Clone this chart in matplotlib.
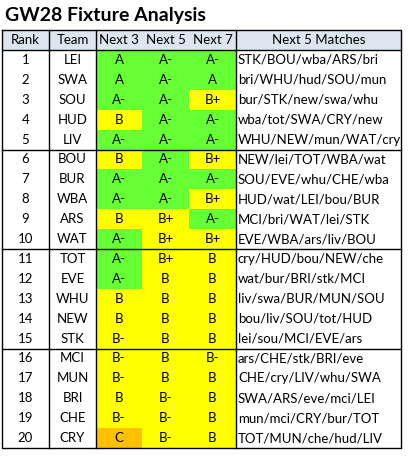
import matplotlib
matplotlib.use("Agg")
import matplotlib.pyplot as plt
from matplotlib.patches import Rectangle

ranks = list(range(1, 21))
teams = ["LEI","SWA","SOU","HUD","LIV","BOU","BUR","WBA","ARS","WAT",
         "TOT","EVE","WHU","NEW","STK","MCI","MUN","BRI","CHE","CRY"]
next3 = ["A","A","A-","B","A-","B","A-","A-","B","A-",
         "A-","A-","B","B","B-","B-","B-","B","B-","C"]
next5 = ["A-","A-","A-","A-","A-","A-","A-","A-","B+","B+",
         "B+","B","B","B","B","B","B","B-","B-","B-"]
next7 = ["A-","A","B+","A-","A-","B+","A-","B+","A-","B+",
         "B","B","B","B","B","B-","B","B","B","B"]
matches = ["STK/BOU/wba/ARS/bri","bri/WHU/hud/SOU/mun","bur/STK/new/swa/whu",
           "wba/tot/SWA/CRY/new","WHU/NEW/mun/WAT/cry","NEW/lei/TOT/WBA/wat",
           "SOU/EVE/whu/CHE/wba","HUD/wat/LEI/bou/BUR","MCI/bri/WAT/lei/STK",
           "EVE/WBA/ars/liv/BOU","cry/HUD/bou/NEW/che","wat/bur/BRI/stk/MCI",
           "liv/swa/BUR/MUN/SOU","bou/liv/SOU/tot/HUD","lei/sou/MCI/EVE/ars",
           "ars/CHE/stk/BRI/eve","CHE/cry/LIV/whu/SWA","SWA/ARS/eve/mci/LEI",
           "mun/mci/CRY/bur/TOT","TOT/MUN/che/hud/LIV"]
headers = ["Rank","Team","Next 3","Next 5","Next 7","Next 5 Matches"]

def gcol(g):
    if g.startswith("A"): return "#66FF33"
    if g.startswith("B"): return "#FFFF00"
    return "#FFC000"

plt.rcParams['font.family'] = ['Lato', 'DejaVu Sans']
fig = plt.figure(figsize=(4.1, 4.58), dpi=100)
ax = fig.add_axes([0, 0, 1, 1])
ax.set_xlim(0, 410); ax.set_ylim(458, 0); ax.axis('off')

xs = [2, 49, 96, 142, 189, 236, 401]
top, hh, rh = 30, 20, 19.9
y0 = top + hh
fs = 9.5
ax.text(5, 16, "GW28 Fixture Analysis", fontsize=14, fontweight='bold', va='center', ha='left')
ax.add_patch(Rectangle((xs[0], top), xs[-1]-xs[0], hh, color="#DCE6F1", lw=0))
for i, h in enumerate(headers):
    ax.text((xs[i]+xs[i+1])/2, top+hh/2, h, fontsize=fs, ha='center', va='center')

for r in range(20):
    yc = y0 + r*rh + rh/2
    for j, g in enumerate([next3[r], next5[r], next7[r]]):
        ax.add_patch(Rectangle((xs[2+j], y0+r*rh), xs[3+j]-xs[2+j], rh+0.3, color=gcol(g), lw=0))
        ax.text((xs[2+j]+xs[3+j])/2, yc, g, fontsize=fs, ha='center', va='center')
    ax.text((xs[0]+xs[1])/2, yc, str(ranks[r]), fontsize=fs, ha='center', va='center')
    ax.text((xs[1]+xs[2])/2, yc, teams[r], fontsize=fs, ha='center', va='center')
    ax.text(xs[5]+2, yc, matches[r], fontsize=fs, ha='left', va='center')

bot = y0 + 20*rh
kw = dict(color='black', lw=1)
ax.plot([xs[0], xs[-1], xs[-1], xs[0], xs[0]], [top, top, bot, bot, top], **kw)
ax.plot([xs[0], xs[-1]], [y0, y0], **kw)
for r in (5, 10, 15):
    ax.plot([xs[0], xs[-1]], [y0+r*rh]*2, **kw)
for x in (xs[1], xs[2], xs[5]):
    ax.plot([x, x], [top, bot], **kw)
fig.savefig("out.png", dpi=100)
